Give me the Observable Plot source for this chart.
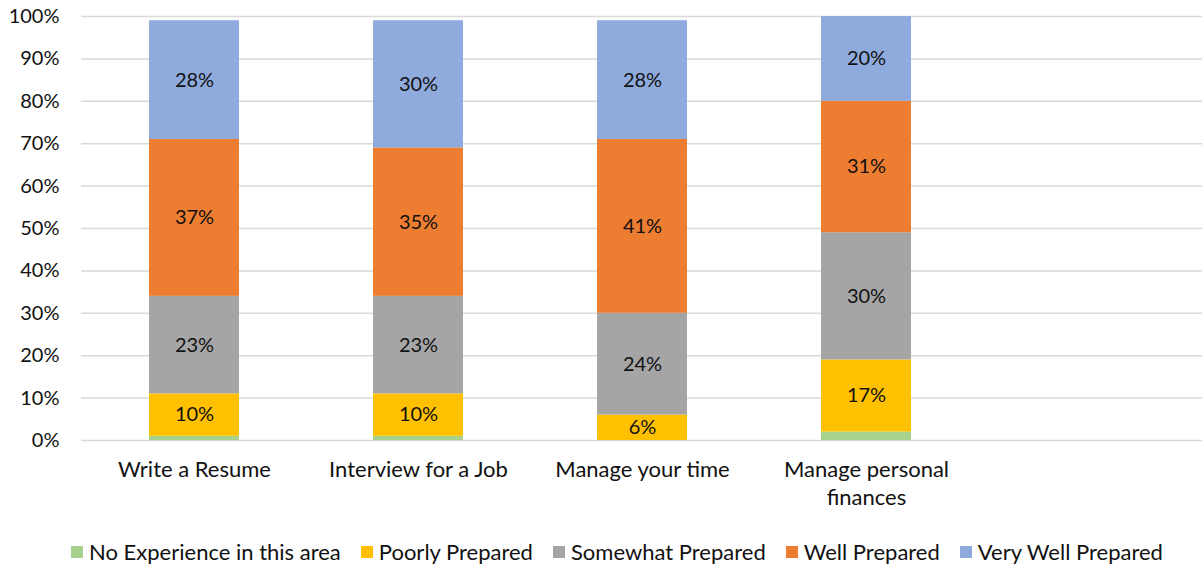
<!DOCTYPE html>
<html>
<head>
<meta charset="utf-8">
<script src="https://cdn.jsdelivr.net/npm/d3@7"></script>
<script src="https://cdn.jsdelivr.net/npm/@observablehq/plot@0.6"></script>
<style>
  html, body { margin: 0; padding: 0; background: #fff; }
  body { width: 1202px; height: 571px; overflow: hidden; font-family: Lato, "Open Sans", sans-serif; }
  #legend { display: flex; justify-content: center; gap: 20px; font-size: 22px; color: #111; margin-left: 32px; margin-top: 13px; }
  #legend .item { display: flex; align-items: center; gap: 6px; }
  #legend .sw { width: 12px; height: 12px; display: inline-block; }
</style>
</head>
<body>
<div id="chart"></div>
<div id="legend"></div>
<script>
const categories = ["Write a Resume", "Interview for a Job", "Manage your time", "Manage personal finances"];
const seriesNames = ["No Experience in this area", "Poorly Prepared", "Somewhat Prepared", "Well Prepared", "Very Well Prepared"];
const noExperience = [1, 1, 0, 2];
const poorlyPrepared = [10, 10, 6, 17];
const somewhatPrepared = [23, 23, 24, 30];
const wellPrepared = [37, 35, 41, 31];
const veryWellPrepared = [28, 30, 28, 20];
const colors = ["#A9D18E", "#FFC000", "#A5A5A5", "#ED7D31", "#8FAADC"];
const yTicks = [0, 10, 20, 30, 40, 50, 60, 70, 80, 90, 100];

const seriesValues = [noExperience, poorlyPrepared, somewhatPrepared, wellPrepared, veryWellPrepared];
const data = [];
seriesNames.forEach((s, si) => {
  categories.forEach((c, ci) => {
    data.push({category: c, series: s, value: seriesValues[si][ci]});
  });
});

const xDomain = [...categories, " "];
const wrap = d => d === "Manage personal finances" ? "Manage personal\nfinances" : d;

const plot = Plot.plot({
  width: 1202,
  height: 525,
  marginLeft: 81,
  marginRight: 0,
  marginTop: 16,
  marginBottom: 85,
  style: {fontFamily: "Lato, 'Open Sans', sans-serif", fontSize: "20px", color: "#111", background: "#fff"},
  x: {domain: xDomain, paddingInner: 0.6, paddingOuter: 0.3, label: null},
  y: {domain: [0, 100], label: null},
  color: {domain: seriesNames, range: colors},
  marks: [
    Plot.ruleY(yTicks, {stroke: "#d9d9d9", strokeWidth: 1.5}),
    Plot.barY(data, Plot.stackY({x: "category", y: "value", fill: "series", z: "series"})),
    Plot.text(data, Plot.stackY({x: "category", y: "value", z: "series",
      text: d => d.series === seriesNames[0] ? "" : d.value + "%",
      fill: "#111", fontSize: 20})),
    Plot.axisY({ticks: yTicks, tickFormat: d => d + "%", tickSize: 0, tickPadding: 22, label: null, fontSize: 20}),
    Plot.axisX({tickSize: 0, tickPadding: 17, tickFormat: wrap, label: null, fontSize: 22, lineHeight: 1.27})
  ]
});
document.getElementById("chart").appendChild(plot);

const legend = document.getElementById("legend");
seriesNames.forEach((s, i) => {
  const item = document.createElement("div");
  item.className = "item";
  const sw = document.createElement("span");
  sw.className = "sw";
  sw.style.background = colors[i];
  const t = document.createElement("span");
  t.textContent = s;
  item.appendChild(sw);
  item.appendChild(t);
  legend.appendChild(item);
});
</script>
</body>
</html>
